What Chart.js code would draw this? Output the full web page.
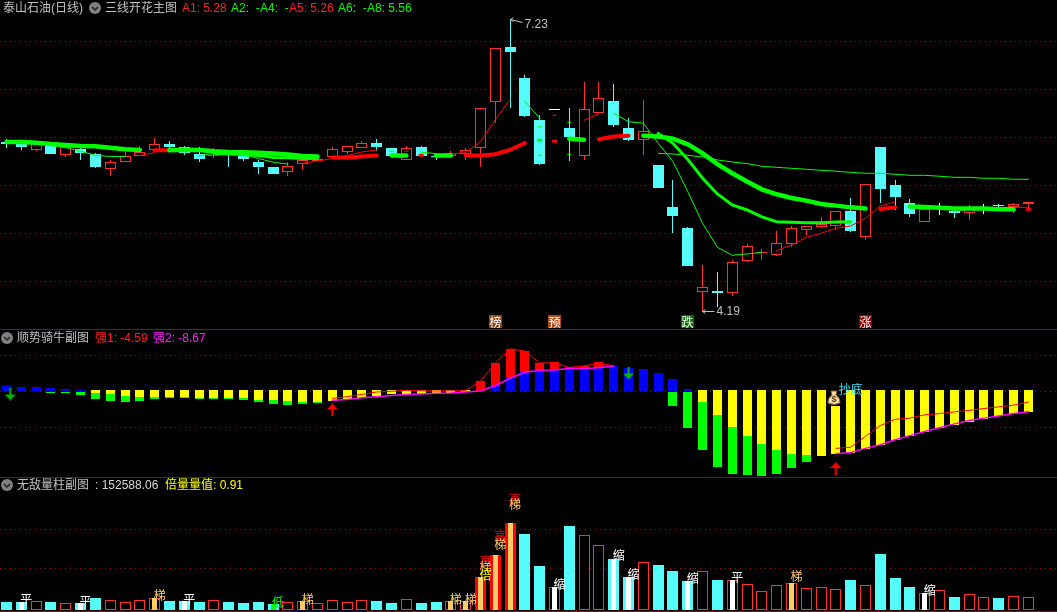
<!DOCTYPE html>
<html>
<head>
<meta charset="utf-8">
<title>泰山石油(日线)</title>
<script src="https://cdn.jsdelivr.net/npm/chart.js@4"></script>
<style>
    html, body { margin: 0; padding: 0; background: #000; overflow: hidden; }
    #wrap { position: relative; width: 1057px; height: 612px; background: #000; overflow: hidden; }
    canvas { position: absolute; left: 0; display: block; }
    .line { position: absolute; left: 0; width: 1057px; height: 1px; background: #a80000; }
    .t { position: absolute; white-space: pre; font: 12px/16px "Liberation Sans", "Noto Sans CJK SC", sans-serif; color: #c0c0c0; }
    .icon { position: absolute; width: 12px; height: 12px; }
</style>
</head>
<body>
<div id="wrap">
    <canvas id="paneMain" width="1057" height="329" style="top:0"></canvas>
    <canvas id="paneBull" width="1057" height="147" style="top:330px"></canvas>
    <canvas id="paneVol" width="1057" height="134" style="top:478px"></canvas>
    <div class="line" style="top:329px"></div>
    <div class="line" style="top:477px"></div>
    <div id="legends"></div>
</div>
<script>
// candles, 70 trading days
const candleOpen = [5.95,5.95,5.87,5.93,5.82,5.88,5.83,5.67,5.74,5.80,5.87,5.93,5.90,5.83,5.80,5.84,5.81,5.74,5.69,5.64,5.72,5.75,5.79,5.85,5.89,5.94,5.89,5.76,5.90,5.81,5.81,5.83,5.89,6.37,6.94,6.62,6.18,6.29,6.10,5.80,6.25,6.38,6.10,5.97,5.71,5.27,5.05,4.39,4.40,4.38,4.71,4.79,4.77,4.89,5.03,5.07,5.08,5.23,4.96,5.90,5.50,5.32,5.12,5.27,5.23,5.21,5.26,5.29,5.27,5.30];
const candleClose = [5.93,5.90,5.95,5.83,5.90,5.84,5.69,5.74,5.81,5.85,5.93,5.90,5.84,5.77,5.82,5.83,5.77,5.69,5.62,5.70,5.76,5.77,5.88,5.91,5.94,5.90,5.80,5.89,5.81,5.79,5.84,5.87,6.30,6.93,6.89,6.22,5.72,6.29,6.00,6.29,6.41,6.13,5.97,6.07,5.47,5.18,4.66,4.44,4.38,4.70,4.87,4.80,4.90,5.06,5.08,5.10,5.23,5.02,5.51,5.46,5.38,5.20,5.25,5.27,5.21,5.25,5.26,5.28,5.30,5.33];
const candleHigh = [5.98,5.95,5.95,5.93,5.91,5.90,5.84,5.76,5.85,5.91,5.99,5.96,5.91,5.90,5.89,5.84,5.82,5.76,5.69,5.74,5.80,5.78,5.90,5.91,5.96,5.98,5.89,5.91,5.91,5.84,5.86,5.89,6.30,6.93,7.23,6.65,6.23,6.29,6.30,6.58,6.58,6.56,6.20,6.39,5.71,5.56,5.07,4.67,4.60,4.72,4.89,4.84,5.02,5.08,5.08,5.17,5.23,5.37,5.51,5.90,5.55,5.36,5.27,5.32,5.27,5.29,5.31,5.30,5.32,5.33];
const candleLow = [5.89,5.87,5.86,5.83,5.79,5.76,5.68,5.60,5.74,5.80,5.87,5.87,5.82,5.74,5.78,5.69,5.75,5.62,5.62,5.60,5.66,5.75,5.79,5.83,5.89,5.86,5.79,5.76,5.81,5.76,5.81,5.76,5.69,6.15,6.30,6.21,5.71,6.29,5.75,5.76,6.25,6.11,5.96,5.82,5.47,5.00,4.66,4.19,4.23,4.35,4.70,4.72,4.76,4.86,4.98,5.05,5.03,5.01,4.93,5.32,5.24,5.17,5.12,5.19,5.16,5.14,5.20,5.26,5.21,5.25];

// moving average lines of the main pane, _ means the line is in the other colour there
const _ = null;
const thickGreen = [5.951,5.951,5.944,5.93,5.92,5.91,5.906,5.89,5.875,5.868,_,5.865,5.87,5.867,5.854,5.847,5.844,5.84,5.83,5.82,5.805,5.80,_,_,_,_,5.81,5.81,_,5.81,5.81,_,_,_,_,_,_,_,5.985,5.975,_,_,_,6.017,6.007,5.986,5.927,5.833,5.72,5.625,5.54,5.458,5.406,5.368,5.34,5.306,5.288,5.27,5.257,_,_,5.28,5.274,5.267,5.257,5.257,5.257,5.25,5.25,_];
const thickRed = [_,_,_,_,_,_,_,_,_,_,5.865,5.865,_,_,_,_,_,_,_,_,_,_,5.79,5.79,5.80,5.81,_,_,_,_,_,5.81,5.81,5.823,5.868,5.94,_,_,_,_,5.98,6.007,6.017,_,_,_,_,_,_,_,_,_,_,_,_,_,_,_,_,5.253,5.27,_,_,_,_,_,_,_,_,_];
const midGreen = [_,_,_,_,_,_,_,_,_,_,_,_,_,_,5.833,5.826,5.82,5.81,5.79,5.788,5.78,5.78,_,_,_,_,_,_,_,_,_,_,_,_,_,_,_,_,_,_,_,_,_,_,6.04,5.9375,5.77,5.573,5.41,5.295,5.243,5.17,5.12,5.115,5.11,5.11,5.118,5.12,_,_,_,_,_,_,_,_,_,_,_,_];
const longGreen = [_,_,_,_,_,_,_,_,_,_,_,_,_,_,_,_,_,_,_,_,_,_,_,_,_,_,_,_,_,_,_,_,_,_,_,_,_,_,_,_,_,_,_,_,5.833,5.826,5.8125,5.795,5.764,5.743,5.726,5.698,5.687,5.677,5.667,5.656,5.646,5.635,5.625,5.625,5.615,5.604,5.604,5.594,5.583,5.583,5.573,5.573,5.5625,5.5625];
const thinGreen = [_,_,_,5.917,5.892,5.854,5.8125,5.80,5.80,_,_,_,_,5.806,5.833,5.833,5.816,5.78,5.74,5.72,_,_,_,_,_,_,_,_,5.844,5.83,_,_,_,_,_,6.375,6.198,_,_,_,_,6.25,6.163,6.146,5.9375,5.747,5.434,5.104,4.854,4.771,4.785,4.80,_,_,_,_,_,_,_,_,_,_,_,_,_,_,_,_,_,_];
const thinRed = [_,_,_,_,_,_,_,_,_,5.81,5.84,_,_,_,_,_,_,_,_,_,5.73,5.753,5.778,5.81,5.847,5.868,_,_,_,_,5.826,5.84,5.955,6.18,6.396,_,_,_,_,6.177,6.247,_,_,_,_,_,_,_,_,_,_,_,4.82,4.878,4.958,5.0,5.052,5.076,5.156,5.285,5.326,_,_,_,_,_,_,_,5.27,5.27];

// single day stubs of those lines
const dotGreenIdx = [36];
const dotGreenVal = [5.97];
const dotRedIdx = [28, 37, 69];
const dotRedVal = [5.8125, 5.96, 5.25];
const dashGreenIdx = [26, 36, 36, 38, 38];
const dashGreenVal = [5.854, 6.11, 5.8125, 6.156, 5.823];
const dashRedIdx = [27, 37];
const dashRedVal = [5.854, 6.229];

const priceGrid = [4.5, 5, 5.5, 6, 6.5, 7];
const extremeIdx = [34, 47];
const extremeVal = [7.23, 4.19];
const tagIdx = [33, 37, 46, 58];
const tagText = ['榜', '预', '跌', '涨'];
const tagColor = ['#8c4614', '#aa4a14', '#006e00', '#8c0000'];

// bull pane bars: blue/red above zero, yellow/green below
const blueTop = [2.25,1.8,1.8,1.3,1.0,0.4,_,_,_,_,_,_,_,_,_,_,_,_,_,_,_,_,_,_,_,_,_,_,_,_,_,_,_,2.2,5.3,7.8,8.6,8.8,9.4,9.4,9.7,10.4,9.7,9.0,7.7,4.8,1.0,_,_,_,_,_,_,_,_,_,_,_,_,_,_,_,_,_,_,_,_,_,_,_];
const redTop = [_,_,_,_,_,_,_,_,_,_,_,_,_,_,_,_,_,_,_,_,_,_,_,_,_,_,_,_,_,_,_,_,4.17,11.67,17.5,16.7,11.67,11.9,9.9,10.6,11.9,_,_,_,_,_,_,_,_,_,_,_,_,_,_,_,_,_,_,_,_,_,_,_,_,_,_,_,_,_];
const yellowBottom = [_,_,_,_,_,_,-0.85,-1.1,-2,-2.4,-2.4,-2.4,-2.4,-2.8,-2.8,-2.8,-2.8,-3.7,-3.7,-4.1,-4.5,-4.5,-4.2,-3.33,-2.8,-2.1,-1.4,-1.25,-1.4,-0.83,-0.83,-0.55,_,_,_,_,_,_,_,_,_,_,_,_,_,_,_,-4.5,-9.9,-15,-18.8,-22.1,-24.6,-26.3,-26.8,-27.2,-26.3,-25.9,-24.2,-22.5,-20.4,-18.8,-17.1,-15.4,-14.1,-12.9,-11.6,-10.6,-9.5,-8.67];
const greenBottom = [_,_,_,-0.5,-1.0,-1.5,-3.2,-4.1,-4.5,-4.1,-3.2,-2.8,-2.8,-3.2,-3.2,-3.2,-3.7,-4.5,-5.4,-5.8,-5.4,-4.9,_,_,_,_,_,_,_,_,_,_,_,_,_,_,_,_,_,_,_,_,_,_,_,-6.2,-15.4,-24.6,-31.8,-34.7,-35.2,-35.6,-34.7,-32.2,-29.7,_,_,_,_,_,_,_,_,_,_,_,_,_,_,_];
const strong1 = [_,_,_,_,_,_,_,_,_,_,_,_,_,_,_,_,_,_,_,_,_,_,-3.05,-2.36,-1.4,-0.4,-0.14,0.28,0.14,0,0.14,0.14,4.17,11.67,17.5,16.7,11.67,11.8,9.8,10.5,11.5,10.5,_,_,_,_,_,_,_,_,_,_,_,_,_,_,-23.9,-23.4,-18.9,-14.4,-11.8,-11.3,-9.9,-9.4,-8.7,-8.1,-7.3,-6.6,-5.9,-4.59];
const strong2 = [_,_,_,_,_,_,_,_,_,_,_,_,_,_,_,_,_,_,_,_,_,_,-3.9,-3.5,-2.8,-2.36,-1.9,-1.5,-1.25,-0.97,-0.83,-0.42,0,2.2,5.3,7.8,8.6,8.8,9.4,9.4,9.7,10.4,_,_,_,_,_,_,_,_,_,_,_,_,_,_,-26.1,-25.6,-23.9,-22.4,-20.3,-18.6,-16.9,-15.3,-13.7,-12.3,-11.3,-10.4,-9.4,-8.67];
const bullGrid = [-15, 0, 15];
const redArrowIdx = [22, 56];
const redArrowVal = [-7.9, -32.3];
const greenArrowIdx = [0.25, 42];
const greenArrowVal = [-1.25, 7.5];

// volume pane
const volume = [101000,101000,114000,101000,85000,89000,152000,127000,101000,127000,152000,114000,114000,101000,127000,101000,89000,101000,76000,101000,114000,89000,127000,101000,127000,114000,89000,139000,89000,101000,114000,114000,418000,685000,1090000,951000,555000,286000,1046000,933000,807000,643000,416000,605000,567000,492000,366000,492000,378000,378000,328000,240000,315000,340000,277000,290000,265000,378000,315000,706000,403000,290000,214000,252000,164000,202000,164000,151000,176000,164000];
const volWhiteIdx = [1, 5, 12, 37, 41, 42, 46, 49, 62];
const volOrangeIdx = [10, 20, 30, 31, 32, 33, 34, 53];
const volGreenIdx = [18];
const volSolidIdx = [32, 33, 34];
const volGrid = [518750, 1012500];
const labelIdx = [1, 5, 10, 12, 18, 20, 30, 31, 32, 32, 32, 33, 33, 34, 34, 37, 41, 42, 46, 49, 53, 62];
const labelText = ['平','平','梯','平','低','梯','梯','梯','高','梯','倍','高','梯','高','梯','缩','缩','缩','缩','平','梯','缩'];
const labelVal = [129000,107000,180000,129000,95000,129000,129000,129000,604000,529000,437000,916000,825000,1381000,1316000,314000,680000,440000,390000,403000,419000,239000];
const stripTickIdx = [19.1, 24.4, 27.5, 32.9, 38.5, 44, 47.7, 51.4, 55.2, 58.9];
const stripBlueFrom = 19.1;
const stripBlueTo = 24.4;

const RED = '#ff3232';
const CYAN = '#54fcfc';
const LIME = '#00ff00';
const days = candleOpen.map((v, i) => i);
const X_MIN = -0.4409;
const X_MAX = 70.93;
const CJK = '"Noto Sans CJK SC", sans-serif';

function xy(vals) {
    return vals.map((v, i) => ({ x: i, y: v }));
}
function points(idx, vals) {
    return idx.map((x, i) => ({ x: x, y: vals[i] }));
}
function lineSet(vals, color, width) {
    return {
        type: 'line', data: xy(vals), borderColor: color, borderWidth: width,
        pointRadius: 0, tension: 0, spanGaps: false, borderCapStyle: 'round'
    };
}
function dotSet(idx, vals, color, radius, width) {
    return {
        type: 'line', showLine: false, data: points(idx, vals), pointStyle: 'line',
        pointRadius: radius, pointBorderColor: color, pointBorderWidth: width
    };
}
function barSet(data, thickness, fill, border) {
    return {
        type: 'bar', data: data, grouped: false, barThickness: thickness, backgroundColor: fill,
        borderColor: border || fill, borderWidth: border ? 1 : 0, borderSkipped: false, inflateAmount: 0
    };
}
function candleColor(i) {
    if (candleClose[i] > candleOpen[i]) return RED;
    return candleClose[i] < candleOpen[i] ? CYAN : '#ffffff';
}

// the original draws on whole pixels, so snap bars to the grid too
const snapBars = {
    id: 'snapBars',
    afterDatasetsUpdate(chart) {
        chart.getSortedVisibleDatasetMetas().forEach(meta => {
            if (meta.type !== 'bar') return;
            meta.data.forEach(el => {
                const top = Math.round(Math.min(el.y, el.base));
                let bottom = Math.round(Math.max(el.y, el.base));
                if (bottom === top) bottom = top + 1;
                el.x = Math.floor(el.x) + 0.5;
                el.y = top;
                el.base = bottom;
            });
        });
    }
};

function baseOptions(yMin, yMax, gridValues) {
    return {
        responsive: false,
        animation: false,
        events: [],
        // no autoPadding: line overflow would shrink the plot by several pixels
        layout: { padding: 0, autoPadding: false },
        plugins: { legend: { display: false }, tooltip: { enabled: false } },
        scales: {
            // bar charts default to an offset x scale, keep the pixel mapping exact
            x: { type: 'linear', display: false, offset: false, min: X_MIN, max: X_MAX },
            y: {
                min: yMin, max: yMax,
                grid: { color: '#a00000', lineWidth: 1, drawTicks: false },
                border: { display: false, dash: [1, 4] },
                ticks: { display: false },
                afterBuildTicks: axis => { axis.ticks = gridValues.map(v => ({ value: v })); }
            }
        }
    };
}

// main pane
const extremeMarks = {
    id: 'extremeMarks',
    afterDatasetsDraw(chart) {
        const { ctx, scales: { x, y } } = chart;
        ctx.save();
        ctx.font = '12px "Liberation Sans"';
        ctx.textBaseline = 'middle';
        ctx.strokeStyle = ctx.fillStyle = '#c0c0c0';
        ctx.lineWidth = 1;
        extremeIdx.forEach((idx, i) => {
            const px = Math.floor(x.getPixelForValue(idx)) + 0.5;
            const py = Math.round(y.getPixelForValue(extremeVal[i])) + 0.5;
            const isHigh = extremeVal[i] === Math.max(...extremeVal);
            const endY = isHigh ? py + 3 : py;
            ctx.beginPath();
            ctx.moveTo(px, py);
            ctx.lineTo(px + 12, endY);
            ctx.moveTo(px, py);
            ctx.lineTo(px + 3, py - 2);
            ctx.moveTo(px, py);
            ctx.lineTo(px + 3, py + 2);
            ctx.stroke();
            ctx.fillText(extremeVal[i].toFixed(2), px + 14, isHigh ? endY + 2 : endY);
        });
        // signal tags along the bottom
        ctx.font = '12px ' + CJK;
        ctx.textAlign = 'center';
        tagIdx.forEach((idx, i) => {
            const px = Math.floor(x.getPixelForValue(idx));
            ctx.fillStyle = tagColor[i];
            ctx.fillRect(px - 6, 315, 13, 13);
            ctx.fillStyle = '#ffffff';
            ctx.fillText(tagText[i], px + 0.5, 322);
        });
        ctx.restore();
    }
};

new Chart(document.getElementById('paneMain'), {
    data: {
        datasets: [
            dotSet(dotGreenIdx, dotGreenVal, LIME, 2.5, 3),
            dotSet(dotRedIdx, dotRedVal, '#ff0000', 2.5, 3),
            lineSet(thickGreen, LIME, 4.5),
            lineSet(thickRed, '#ff0000', 4),
            lineSet(midGreen, LIME, 3),
            lineSet(longGreen, LIME, 1),
            lineSet(thinGreen, LIME, 1),
            lineSet(thinRed, '#ff0000', 1),
            dotSet(dashGreenIdx, dashGreenVal, LIME, 2, 1),
            dotSet(dashRedIdx, dashRedVal, '#ff0000', 2, 1),
            barSet(days.map(i => ({ x: i, y: [candleOpen[i], candleClose[i]] })), 11,
                days.map(i => candleClose[i] > candleOpen[i] ? '#000000' : candleColor(i)), days.map(candleColor)),
            barSet(days.map(i => ({ x: i, y: [candleLow[i], candleHigh[i]] })), 1, days.map(candleColor))
        ]
    },
    options: baseOptions(4.003, 7.43, priceGrid),
    plugins: [snapBars, extremeMarks]
});

// bull pane
function arrowImage(color, up) {
    const c = document.createElement('canvas');
    c.width = 11;
    c.height = 13;
    const g = c.getContext('2d');
    g.fillStyle = color;
    g.translate(0, up ? 0 : 13);
    g.scale(1, up ? 1 : -1);
    g.beginPath();
    g.moveTo(5.5, 0);
    g.lineTo(11, 6);
    g.lineTo(0, 6);
    g.closePath();
    g.fill();
    g.fillRect(4.5, 6, 2, 7);
    return c;
}

const moneyBag = {
    id: 'moneyBag',
    afterDatasetsDraw(chart) {
        const { ctx, scales: { x, y } } = chart;
        const px = Math.round(x.getPixelForValue(55.9));
        const py = Math.round(y.getPixelForValue(-2.9));
        ctx.save();
        ctx.fillStyle = '#000000';
        ctx.fillRect(px - 7, py - 9, 14, 17);
        ctx.fillStyle = '#f3dca6';
        ctx.strokeStyle = '#8a5a28';
        ctx.lineWidth = 1;
        ctx.beginPath();
        ctx.moveTo(px - 2, py - 3);
        ctx.quadraticCurveTo(px - 7, py + 1, px - 6, py + 5);
        ctx.quadraticCurveTo(px, py + 8, px + 6, py + 5);
        ctx.quadraticCurveTo(px + 7, py + 1, px + 2, py - 3);
        ctx.lineTo(px + 3, py - 7);
        ctx.lineTo(px - 3, py - 7);
        ctx.closePath();
        ctx.fill();
        ctx.stroke();
        ctx.fillStyle = '#6b3a12';
        ctx.font = 'bold 9px "Liberation Sans"';
        ctx.textAlign = 'center';
        ctx.textBaseline = 'middle';
        ctx.fillText('$', px, py + 2);
        ctx.fillStyle = '#33e6ff';
        ctx.font = '12px ' + CJK;
        ctx.fillText('抄底', x.getPixelForValue(57), y.getPixelForValue(0.8));
        ctx.restore();
    }
};

new Chart(document.getElementById('paneBull'), {
    data: {
        datasets: [
            {
                type: 'line', showLine: false, data: points(redArrowIdx, redArrowVal),
                pointStyle: arrowImage('#ff0000', true)
            },
            {
                type: 'line', showLine: false, data: points(greenArrowIdx, greenArrowVal),
                pointStyle: arrowImage('#00b400', false)
            },
            lineSet(strong2, '#ff00ff', 1.5),
            lineSet(strong1, '#ff0000', 1),
            barSet(days.filter(i => redTop[i] !== _).map(i => ({ x: i, y: [blueTop[i] === _ ? 0 : blueTop[i], redTop[i]] })), 9, '#ff0000'),
            barSet(days.filter(i => blueTop[i] !== _).map(i => ({ x: i, y: [0, blueTop[i]] })), 9, '#0000ff'),
            barSet(days.filter(i => yellowBottom[i] !== _).map(i => ({ x: i, y: [0.3, yellowBottom[i]] })), 9, '#ffff00'),
            barSet(days.filter(i => greenBottom[i] !== _).map(i => ({ x: i, y: [yellowBottom[i] === _ ? 0 : yellowBottom[i], greenBottom[i]] })), 9, LIME)
        ]
    },
    options: baseOptions(-35.83, 25.42, bullGrid),
    plugins: [snapBars, moneyBag]
});

// volume pane
const volumeMarks = {
    id: 'volumeMarks',
    afterDatasetsDraw(chart) {
        const { ctx, scales: { x, y } } = chart;
        ctx.save();
        ctx.font = '12px ' + CJK;
        ctx.textAlign = 'center';
        ctx.textBaseline = 'middle';
        labelIdx.forEach((idx, i) => {
            const word = labelText[i];
            ctx.fillStyle = { '平': '#ffffff', '缩': '#ffffff', '梯': '#ffcc66', '低': LIME, '高': '#ff0000', '倍': '#ffff00' }[word];
            ctx.fillText(word, x.getPixelForValue(idx) + 5, y.getPixelForValue(labelVal[i]));
        });
        // date strip under the bars
        const py = chart.height - 1;
        ctx.fillStyle = '#a80000';
        ctx.fillRect(0, py, chart.width, 1);
        ctx.fillStyle = '#0000a8';
        const blueLeft = Math.floor(x.getPixelForValue(stripBlueFrom));
        ctx.fillRect(blueLeft, py, Math.floor(x.getPixelForValue(stripBlueTo)) - blueLeft, 1);
        ctx.fillStyle = '#c00000';
        stripTickIdx.forEach(idx => ctx.fillRect(Math.floor(x.getPixelForValue(idx)), py - 1, 1, 2));
        ctx.restore();
    }
};

function innerBars(list) {
    return list.map(i => ({ x: i, y: [0, volume[i]] }));
}

new Chart(document.getElementById('paneVol'), {
    data: {
        datasets: [
            barSet(innerBars(volWhiteIdx), 5, '#ffffff'),
            barSet(innerBars(volOrangeIdx), 5, '#ffcc66'),
            barSet(innerBars(volGreenIdx), 5, LIME),
            barSet(innerBars(volSolidIdx), 11, '#ff0000'),
            barSet(days.map(i => ({ x: i, y: [0, volume[i]] })), 11,
                days.map(i => candleClose[i] >= candleOpen[i] ? '#000000' : CYAN),
                days.map(i => candleClose[i] >= candleOpen[i] ? RED : CYAN))
        ]
    },
    options: baseOptions(-25000, 1650000, volGrid),
    plugins: [snapBars, volumeMarks]
});

// legend rows
const legendRows = [
    ['泰山石油(日线)', 3, 0, '#c0c0c0'],
    ['三线开花主图', 105, 0, '#c0c0c0'],
    ['A1: 5.28', 182, 0, '#ff2020'],
    ['A2:  -', 231, 0, LIME],
    ['A4:  -', 260, 0, LIME],
    ['A5: 5.26', 289, 0, '#ff2020'],
    ['A6:  -', 338, 0, LIME],
    ['A8: 5.56', 367, 0, LIME],
    ['顺势骑牛副图', 17, 330, '#c0c0c0'],
    ['强1: -4.59', 95, 330, '#ff2020'],
    ['强2: -8.67', 153, 330, '#ff20ff'],
    ['无敌量柱副图', 17, 477, '#c0c0c0'],
    [': 152588.06', 95, 477, '#d8d8d8'],
    ['倍量量值: 0.91', 165, 477, '#ffff00']
];
const legendIcons = [[89, 2], [1, 332], [1, 479]];
const box = document.getElementById('legends');
legendRows.forEach(r => {
    const el = document.createElement('span');
    el.className = 't';
    el.textContent = r[0];
    el.style.left = r[1] + 'px';
    el.style.top = r[2] + 'px';
    el.style.color = r[3];
    box.appendChild(el);
});
legendIcons.forEach(p => {
    const html = '<svg class="icon" style="left:' + p[0] + 'px;top:' + p[1] + 'px" viewBox="0 0 12 12">' +
        '<circle cx="6" cy="6" r="6" fill="#808080"/><path d="M3 5 L6 8 L9 5" fill="none" stroke="#222" stroke-width="1.5"/></svg>';
    box.insertAdjacentHTML('beforeend', html);
});
</script>
</body>
</html>
